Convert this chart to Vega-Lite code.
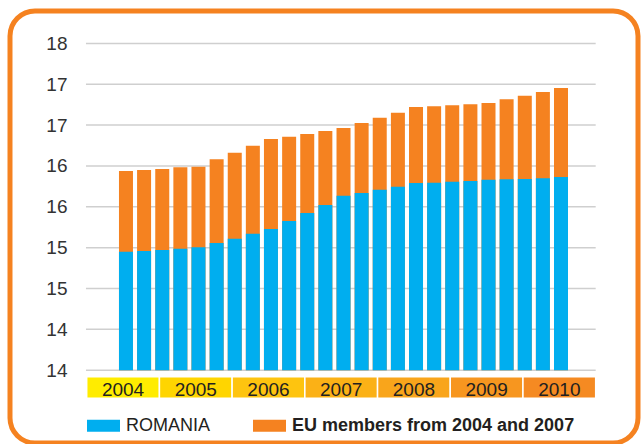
{
  "$schema": "https://vega.github.io/schema/vega-lite/v6.json",
  "width": 628,
  "height": 432,
  "autosize": {"type": "none"},
  "padding": {"left": 10, "top": 11, "right": 3, "bottom": 1},
  "background": "white",
  "config": {
    "font": "Liberation Sans",
    "view": {"stroke": "#F58220", "strokeWidth": 5, "cornerRadius": 25, "fill": "white"}
  },
  "datasets": {
    "bars": [
      {"t": 2004.540, "romania": 15.450, "eu": 16.438},
      {"t": 2004.789, "romania": 15.459, "eu": 16.450},
      {"t": 2005.039, "romania": 15.471, "eu": 16.463},
      {"t": 2005.288, "romania": 15.487, "eu": 16.483},
      {"t": 2005.537, "romania": 15.504, "eu": 16.491},
      {"t": 2005.787, "romania": 15.557, "eu": 16.581},
      {"t": 2006.036, "romania": 15.610, "eu": 16.662},
      {"t": 2006.285, "romania": 15.670, "eu": 16.746},
      {"t": 2006.534, "romania": 15.728, "eu": 16.830},
      {"t": 2006.784, "romania": 15.826, "eu": 16.858},
      {"t": 2007.033, "romania": 15.924, "eu": 16.891},
      {"t": 2007.282, "romania": 16.022, "eu": 16.928},
      {"t": 2007.532, "romania": 16.136, "eu": 16.965},
      {"t": 2007.781, "romania": 16.169, "eu": 17.026},
      {"t": 2008.030, "romania": 16.209, "eu": 17.089},
      {"t": 2008.280, "romania": 16.246, "eu": 17.151},
      {"t": 2008.529, "romania": 16.291, "eu": 17.222},
      {"t": 2008.778, "romania": 16.295, "eu": 17.230},
      {"t": 2009.027, "romania": 16.307, "eu": 17.242},
      {"t": 2009.277, "romania": 16.316, "eu": 17.255},
      {"t": 2009.526, "romania": 16.332, "eu": 17.270},
      {"t": 2009.775, "romania": 16.337, "eu": 17.316},
      {"t": 2010.025, "romania": 16.340, "eu": 17.360},
      {"t": 2010.274, "romania": 16.349, "eu": 17.405},
      {"t": 2010.523, "romania": 16.365, "eu": 17.454}
    ],
    "grid": [
      {"v": 14}, {"v": 14.5}, {"v": 15}, {"v": 15.5}, {"v": 16},
      {"v": 16.5}, {"v": 17}, {"v": 17.5}, {"v": 18}
    ],
    "years": [
      {"year": "2004", "start": 2004, "end": 2005, "mid": 2004.5},
      {"year": "2005", "start": 2005, "end": 2006, "mid": 2005.5},
      {"year": "2006", "start": 2006, "end": 2007, "mid": 2006.5},
      {"year": "2007", "start": 2007, "end": 2008, "mid": 2007.5},
      {"year": "2008", "start": 2008, "end": 2009, "mid": 2008.5},
      {"year": "2009", "start": 2009, "end": 2010, "mid": 2009.5},
      {"year": "2010", "start": 2010, "end": 2011, "mid": 2010.5}
    ]
  },
  "layer": [
    {
      "data": {"name": "grid"},
      "mark": {"type": "rule", "color": "#cfcfcf", "strokeWidth": 1.5},
      "encoding": {
        "y": {
          "field": "v",
          "type": "quantitative",
          "scale": {"domain": [13.109, 18.3966], "nice": false, "zero": false},
          "axis": {
            "title": null,
            "values": [14, 14.5, 15, 15.5, 16, 16.5, 17, 17.5, 18],
            "labelExpr": "floor(datum.value)",
            "grid": false,
            "domain": false,
            "ticks": false,
            "tickSize": 0,
            "labelPadding": 0,
            "offset": -57,
            "labelFontSize": 19,
            "labelColor": "#333333",
            "labelFont": "Liberation Sans"
          }
        },
        "x": {
          "datum": 2003.99,
          "type": "quantitative",
          "scale": {"domain": [2002.945, 2011.582], "nice": false, "zero": false, "padding": 0},
          "axis": null
        },
        "x2": {"datum": 2011.0}
      }
    },
    {
      "data": {"name": "bars"},
      "mark": {"type": "bar", "size": 14},
      "encoding": {
        "x": {"field": "t", "type": "quantitative"},
        "y": {"field": "eu", "type": "quantitative"},
        "y2": {"datum": 14},
        "color": {
          "datum": "EU members from 2004 and 2007",
          "type": "nominal",
          "scale": {
            "domain": ["ROMANIA", "EU members from 2004 and 2007"],
            "range": ["#00AEEF", "#F58220"]
          },
          "legend": {
            "title": null,
            "orient": "none",
            "direction": "horizontal",
            "legendX": 77,
            "legendY": 398,
            "padding": 0,
            "symbolType": "M-1,-0.36H1V0.36H-1Z",
            "symbolSize": 1089,
            "symbolStrokeWidth": 0,
            "symbolOpacity": 1,
            "labelOffset": 6,
            "columnPadding": 42,
            "labelFontSize": 18,
            "labelColor": "#231F20",
            "labelFont": "Liberation Sans",
            "labelFontWeight": {"expr": "datum.label == 'ROMANIA' ? 'normal' : 'bold'"},
            "labelLimit": 400
          }
        }
      }
    },
    {
      "data": {"name": "bars"},
      "mark": {"type": "bar", "size": 14},
      "encoding": {
        "x": {"field": "t", "type": "quantitative"},
        "y": {"field": "romania", "type": "quantitative"},
        "y2": {"datum": 14},
        "color": {"datum": "ROMANIA", "type": "nominal"}
      }
    },
    {
      "data": {"name": "years"},
      "mark": {"type": "rect", "stroke": "white", "strokeWidth": 1.5},
      "encoding": {
        "x": {"field": "start", "type": "quantitative"},
        "x2": {"field": "end"},
        "y": {"datum": 13.920},
        "y2": {"datum": 13.656},
        "fill": {
          "field": "year",
          "type": "nominal",
          "scale": {"range": ["#FFEC00", "#FFD500", "#FEC40F", "#FBB116", "#F9A51B", "#F7961F", "#F58A22"]},
          "legend": null
        }
      }
    },
    {
      "data": {"name": "years"},
      "mark": {"type": "text", "fontSize": 19, "color": "#231F20", "baseline": "alphabetic", "align": "center", "font": "Liberation Sans"},
      "encoding": {
        "x": {"field": "mid", "type": "quantitative"},
        "y": {"datum": 13.69},
        "text": {"field": "year"}
      }
    }
  ]
}
